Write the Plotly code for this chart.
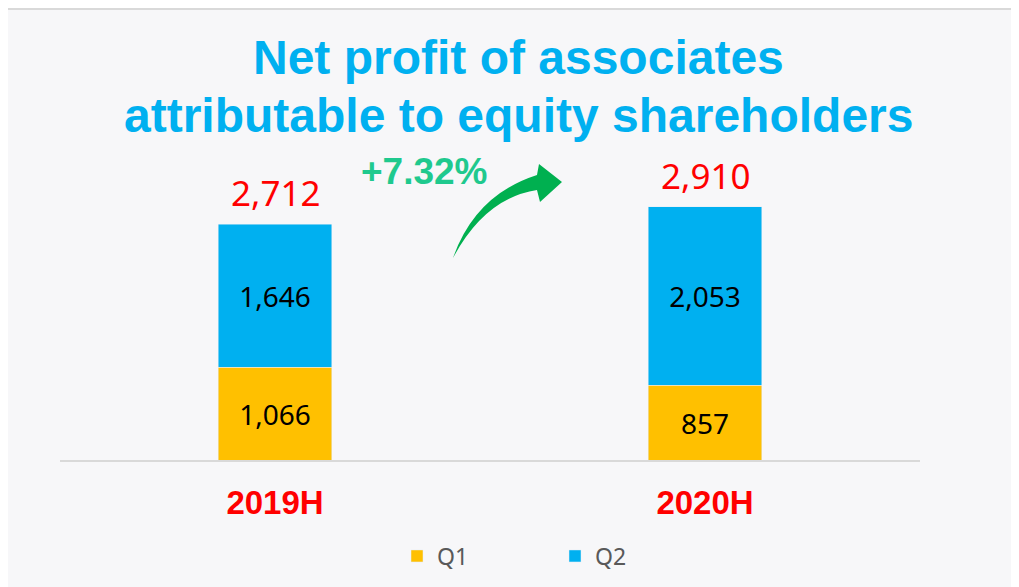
import plotly.graph_objects as go

periods = ["2019H", "2020H"]
q1 = [1066, 857]
q2 = [1646, 2053]
growth_label = "+7.32%"
title_lines = ["Net profit of associates", "attributable to equity shareholders"]

# page is rendered with an 8px body margin; figure is sized to fit the window
OFF = 8
W, H = 1019 - OFF, 587 - OFF
PAGE_L, PAGE_R_EDGE, PAGE_T, PAGE_B = 60, 920, 100, 460
L = PAGE_L - OFF
T = PAGE_T - OFF
PW = PAGE_R_EDGE - PAGE_L
PH = PAGE_B - PAGE_T
R = W - L - PW
B = H - T - PH


def px(x, y):
    # page pixel -> paper coordinates
    return (x - PAGE_L) / PW, (PAGE_B - y) / PH


fig = go.Figure()
fig.add_trace(go.Bar(
    x=periods, y=q1, name="Q1", marker_color="#FFC000",
    texttemplate="%{y:,}", textposition="inside", insidetextanchor="middle",
    textfont=dict(size=28, color="black", family="Noto Sans"), textangle=0,
))
fig.add_trace(go.Bar(
    x=periods, y=q2, name="Q2", marker_color="#00B0F0",
    texttemplate="%{y:,}", textposition="inside", insidetextanchor="middle",
    textfont=dict(size=28, color="black", family="Noto Sans"), textangle=0,
))

annotations = []
for p, a, b in zip(periods, q1, q2):
    annotations.append(dict(
        x=p, y=a + b, xref="x", yref="y", text=f"{a + b:,}", showarrow=False,
        yanchor="bottom", yshift=6,
        font=dict(size=35, color="#FF0000", family="Noto Sans"),
    ))

for line, ypx in zip(title_lines, [58, 116]):
    xp, yp = px(518, ypx)
    annotations.append(dict(
        x=xp, y=yp, xref="paper", yref="paper", text=f"<b>{line}</b>",
        showarrow=False, xanchor="center", yanchor="middle",
        font=dict(size=48, color="#00B0F0", family="Liberation Sans, Arial"),
    ))

gx, gy = px(424, 171)
annotations.append(dict(
    x=gx, y=gy, xref="paper", yref="paper", text=f"<b>{growth_label}</b>",
    showarrow=False, xanchor="center", yanchor="middle",
    font=dict(size=37, color="#1FC98E", family="Liberation Sans, Arial"),
))


def pt(x, y):
    a, b = px(x, y)
    return f"{a:.5f},{b:.5f}"


arrow_path = (
    f"M {pt(453, 258)} Q {pt(475, 195)} {pt(537, 175)} L {pt(539, 164)} "
    f"L {pt(562, 182)} L {pt(540, 202)} L {pt(537, 190)} "
    f"Q {pt(485, 198)} {pt(453, 258)} Z"
)
shapes = [
    dict(type="path", path=arrow_path, xref="paper", yref="paper",
         fillcolor="#00B050", line=dict(width=0)),
]
x0, y0 = px(OFF, 9)
x1, _ = px(1019, 9)
shapes.append(dict(type="line", xref="paper", yref="paper", x0=x0, x1=x1, y0=y0, y1=y0,
                   line=dict(color="#D9D9D9", width=2)))

lgx, lgy = px(397, 556)

fig.update_layout(
    width=W, height=H,
    margin=dict(l=L, r=R, t=T, b=B, autoexpand=False),
    barmode="stack", bargap=0.735,
    paper_bgcolor="#F7F7F9", plot_bgcolor="#F7F7F9",
    showlegend=True,
    legend=dict(orientation="h", x=lgx, xanchor="left", y=lgy, yanchor="middle",
                traceorder="normal",
                font=dict(size=23, color="#595959", family="Noto Sans"),
                entrywidth=113, entrywidthmode="pixels", bgcolor="rgba(0,0,0,0)"),
    xaxis=dict(showline=True, linecolor="#D9D9D9", linewidth=2, showgrid=False,
               ticks="", ticklabelstandoff=12,
               tickfont=dict(size=33, color="#FF0000", family="Liberation Sans, Arial", weight="bold")),
    yaxis=dict(range=[0, 4140], visible=False, showgrid=False, zeroline=False),
    annotations=annotations,
    shapes=shapes,
)

fig.write_html("out.html")
